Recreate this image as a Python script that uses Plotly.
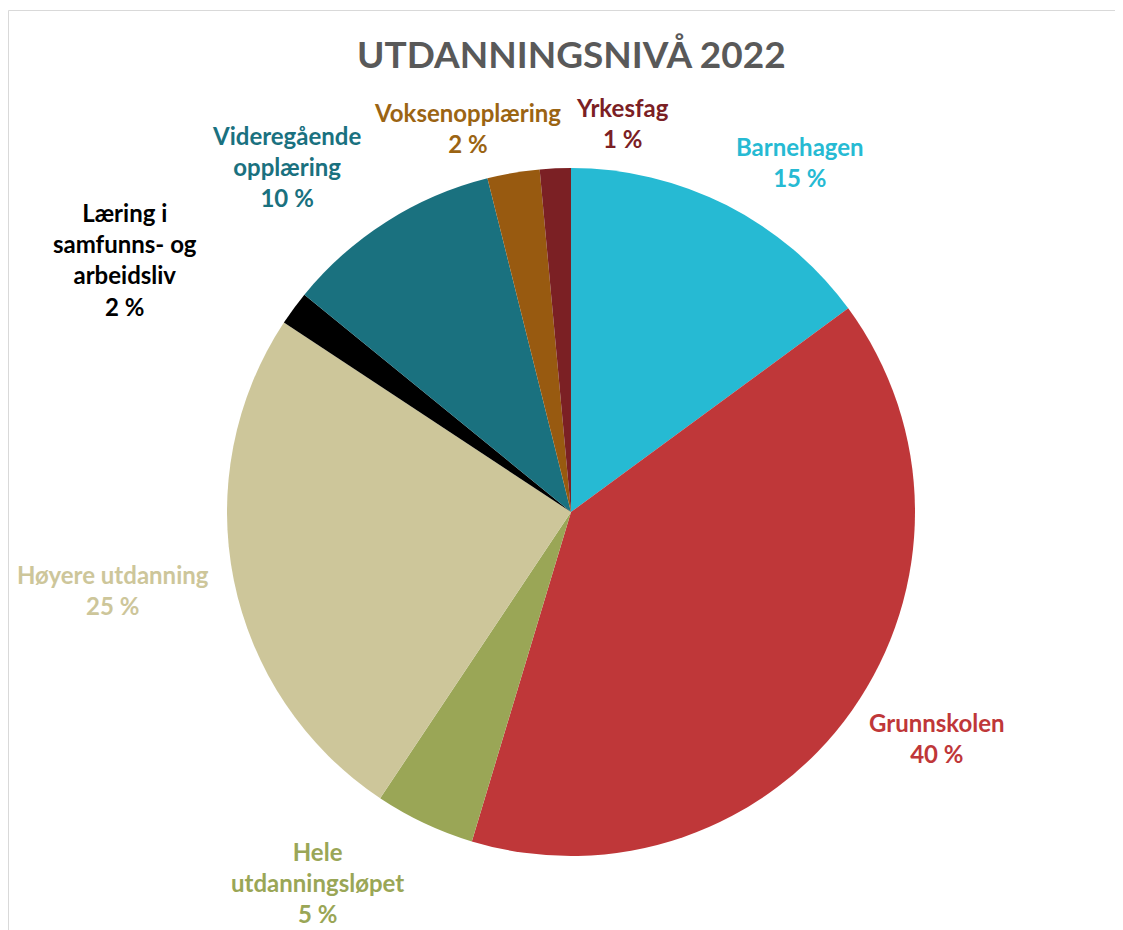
import math
import plotly.graph_objects as go

# ---- data ----
categories = ["Barnehagen", "Grunnskolen", "Hele utdanningsløpet", "Høyere utdanning",
              "Læring i samfunns- og arbeidsliv", "Videregående opplæring",
              "Voksenopplæring", "Yrkesfag"]
label_lines = [["Barnehagen"], ["Grunnskolen"], ["Hele", "utdanningsløpet"], ["Høyere utdanning"],
               ["Læring i", "samfunns- og", "arbeidsliv"], ["Videregående", "opplæring"],
               ["Voksenopplæring"], ["Yrkesfag"]]
values = [14.9, 39.7, 4.7, 24.9, 1.6, 10.2, 2.45, 1.45]
colors = ["#26BAD3", "#BF3739", "#9AA656", "#CDC69A", "#000000", "#1A717F", "#985A10", "#7B2024"]
label_colors = ["#26BAD3", "#BF3739", "#9AA656", "#CDC69A", "#000000", "#1A717F", "#9B6413", "#7B2024"]
title = "UTDANNINGSNIVÅ 2022"

# ---- layout geometry (page pixels; page has an 8px body margin) ----
W, H = 1123, 930
OFF = 8
CX, CY, R = 571 - OFF, 512 - OFF, 344
FONT = "Lato, 'Liberation Sans', Arial, sans-serif"
FS = 24


def clamp(v):
    return max(-1.0, min(1.0, v))


fig = go.Figure(go.Pie(
    labels=categories,
    values=values,
    marker=dict(colors=colors, line=dict(width=0)),
    sort=False,
    direction="clockwise",
    rotation=0,
    textinfo="none",
    hoverinfo="label+percent",
    showlegend=False,
    domain=dict(x=[(CX - R) / W, (CX + R) / W], y=[(H - CY - R) / H, (H - CY + R) / H]),
))

# label boxes computed from slice mid-angles
total = sum(values)
cum = 0.0
boxes = []
for lines, v in zip(label_lines, values):
    mid = (cum + v / 2) / total * 2 * math.pi
    cum += v
    s, c = math.sin(mid), math.cos(mid)
    pct = round(v / total * 100)
    all_lines = lines + [f"{pct} %"]
    w = max(len(t) for t in all_lines) * FS * 0.56
    h = len(all_lines) * FS * 1.3
    d = R * 1.04
    px = CX + d * s + (w / 2) * clamp(s / 0.3)
    py = CY - d * c - (h / 2) * clamp(c / 0.9)
    boxes.append([px, py, w, h, "<br>".join(all_lines)])

# simple horizontal collision resolution
for _ in range(10):
    for i in range(len(boxes)):
        for j in range(i + 1, len(boxes)):
            a, b = boxes[i], boxes[j]
            ox = (a[2] + b[2]) / 2 - abs(a[0] - b[0])
            oy = (a[3] + b[3]) / 2 - abs(a[1] - b[1])
            if ox > 0 and oy > 0:
                sgn = 1 if a[0] < b[0] else -1
                a[0] -= sgn * ox / 2
                b[0] += sgn * ox / 2

annotations = []
for (px, py, w, h, txt), col in zip(boxes, label_colors):
    annotations.append(dict(
        x=px / W, y=1 - py / H, xref="paper", yref="paper",
        text=f"<b>{txt}</b>", showarrow=False,
        xanchor="center", yanchor="middle", align="center",
        font=dict(family=FONT, size=FS, color=col),
    ))

annotations.append(dict(
    x=CX / W, y=1 - (54 - OFF) / H, xref="paper", yref="paper",
    text=f"<b>{title}</b>", showarrow=False, xanchor="center", yanchor="middle",
    font=dict(family=FONT, size=37, color="#595959"),
))

fig.update_layout(
    width=W, height=H,
    margin=dict(l=0, r=0, t=0, b=0),
    paper_bgcolor="white", plot_bgcolor="white",
    annotations=annotations,
    shapes=[dict(type="rect", xref="paper", yref="paper",
                 x0=0.5 / W, x1=1.02, y0=-0.02, y1=1 - 2.5 / H,
                 line=dict(color="#D9D9D9", width=1))],
)

fig.write_html("out.html")
